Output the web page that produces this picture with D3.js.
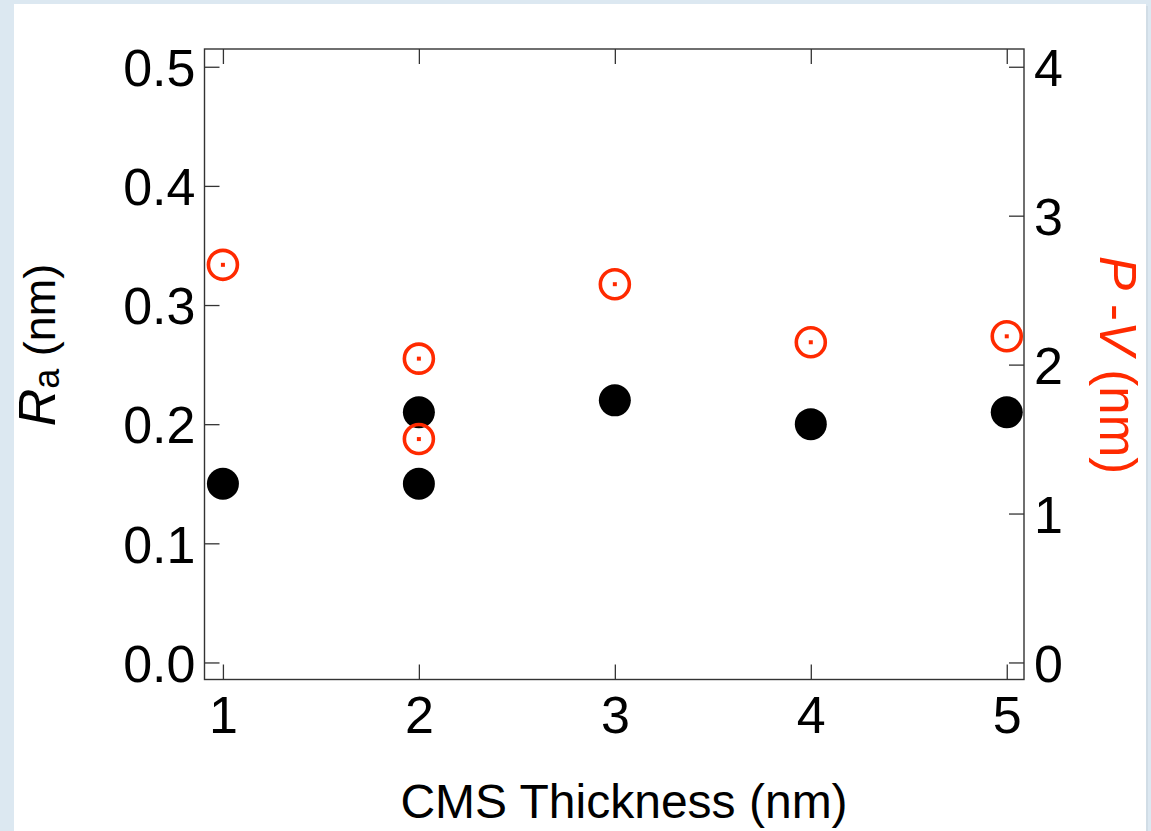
<!DOCTYPE html>
<html><head><meta charset="utf-8">
<script src="https://cdn.jsdelivr.net/npm/d3@7"></script>
<style>
html,body{margin:0;padding:0;background:#dce8f1;}
svg{display:block;}
</style></head>
<body>
<svg id="chart" width="1151" height="831"></svg>
<script>
// ---- data ----
const raThickness = [1, 2, 2, 3, 4, 5];
const raValues    = [0.15, 0.21, 0.15, 0.22, 0.20, 0.21];
const pvThickness = [1, 2, 2, 3, 4, 5];
const pvValues    = [2.67, 2.04, 1.50, 2.54, 2.15, 2.19];
const xTicks  = [1, 2, 3, 4, 5];
const yLeftTicks  = [0.0, 0.1, 0.2, 0.3, 0.4, 0.5];
const yRightTicks = [0, 1, 2, 3, 4];

const RED = "#ff2a00";
const AX = "#333";
const FONT = "'Liberation Sans', Arial, sans-serif";

const svg = d3.select("#chart");
// card
svg.append("rect").attr("x", 16).attr("y", 6).attr("width", 1132).attr("height", 840).attr("fill", "#c9d6e0").attr("opacity", 0.6);
svg.append("rect").attr("x", 14).attr("y", 4).attr("width", 1132).attr("height", 840).attr("fill", "#fff");

const L = 204.5, R = 1024, T = 49, B = 679.5;
const x = d3.scaleLinear().domain([0.906, 5.088]).range([L, R]);
const yL = d3.scaleLinear().domain([-0.0143, 0.5149]).range([B, T]);
const yR = d3.scaleLinear().domain([-0.1144, 4.1192]).range([B, T]);

const tl = 15;
// axes with inward ticks
const gB = svg.append("g").attr("transform", `translate(0,${B})`)
  .call(d3.axisBottom(x).tickValues(xTicks).tickSizeInner(-tl).tickSizeOuter(0).tickPadding(17).tickFormat(d3.format("d")));
const gT = svg.append("g").attr("transform", `translate(0,${T})`)
  .call(d3.axisTop(x).tickValues(xTicks).tickSizeInner(-tl).tickSizeOuter(0).tickFormat(""));
const gL = svg.append("g").attr("transform", `translate(${L},0)`)
  .call(d3.axisLeft(yL).tickValues(yLeftTicks).tickSizeInner(-tl).tickSizeOuter(0).tickPadding(9).tickFormat(d3.format(".1f")));
const gR = svg.append("g").attr("transform", `translate(${R},0)`)
  .call(d3.axisRight(yR).tickValues(yRightTicks).tickSizeInner(-tl).tickSizeOuter(0).tickPadding(10).tickFormat(d3.format("d")));

[gB, gT, gL, gR].forEach(g => {
  g.select(".domain").remove();
  g.selectAll(".tick line").attr("stroke", AX).attr("stroke-width", 1.3);
  g.selectAll(".tick text").attr("font-family", FONT).attr("font-size", 52).attr("fill", "#000");
});
gB.selectAll(".tick text").attr("dy", "0.71em");
gL.selectAll(".tick text").attr("dy", "0.36em");
gR.selectAll(".tick text").attr("dy", "0.36em");

// frame
svg.append("rect").attr("x", L).attr("y", T).attr("width", R - L).attr("height", B - T)
  .attr("fill", "none").attr("stroke", AX).attr("stroke-width", 1.4);

// black Ra points
svg.append("g").selectAll("circle").data(raValues).join("circle")
  .attr("cx", (d, i) => x(raThickness[i])).attr("cy", d => yL(d)).attr("r", 16).attr("fill", "#000");

// red P-V points (ring + center dot)
const gp = svg.append("g");
gp.selectAll("circle.ring").data(pvValues).join("circle").attr("class", "ring")
  .attr("cx", (d, i) => x(pvThickness[i])).attr("cy", d => yR(d)).attr("r", 14.5)
  .attr("fill", "none").attr("stroke", RED).attr("stroke-width", 3.6);
gp.selectAll("rect.dot").data(pvValues).join("rect").attr("class", "dot")
  .attr("x", (d, i) => x(pvThickness[i]) - 2).attr("y", d => yR(d) - 2)
  .attr("width", 4).attr("height", 4).attr("fill", RED);

// x title
svg.append("text").attr("x", 624).attr("y", 818).attr("text-anchor", "middle")
  .attr("font-family", FONT).attr("font-size", 48).attr("fill", "#000").text("CMS Thickness (nm)");

// left title
const lt = svg.append("text").attr("transform", "translate(55,345) rotate(-90)").attr("text-anchor", "middle")
  .attr("font-family", FONT).attr("fill", "#000");
lt.append("tspan").attr("font-size", 52).attr("font-style", "italic").text("R");
lt.append("tspan").attr("font-size", 36).attr("dy", 4).text("a");
lt.append("tspan").attr("font-size", 45).attr("dy", -4).text(" (nm)");

// right title
const rt = svg.append("text").attr("transform", "translate(1100,365) rotate(90)").attr("text-anchor", "middle")
  .attr("font-family", FONT).attr("font-size", 51).attr("fill", RED);
rt.append("tspan").attr("font-style", "italic").text("P");
rt.append("tspan").text(" -");
rt.append("tspan").attr("font-style", "italic").text("V");
rt.append("tspan").text(" (nm)");
</script>
</body></html>
